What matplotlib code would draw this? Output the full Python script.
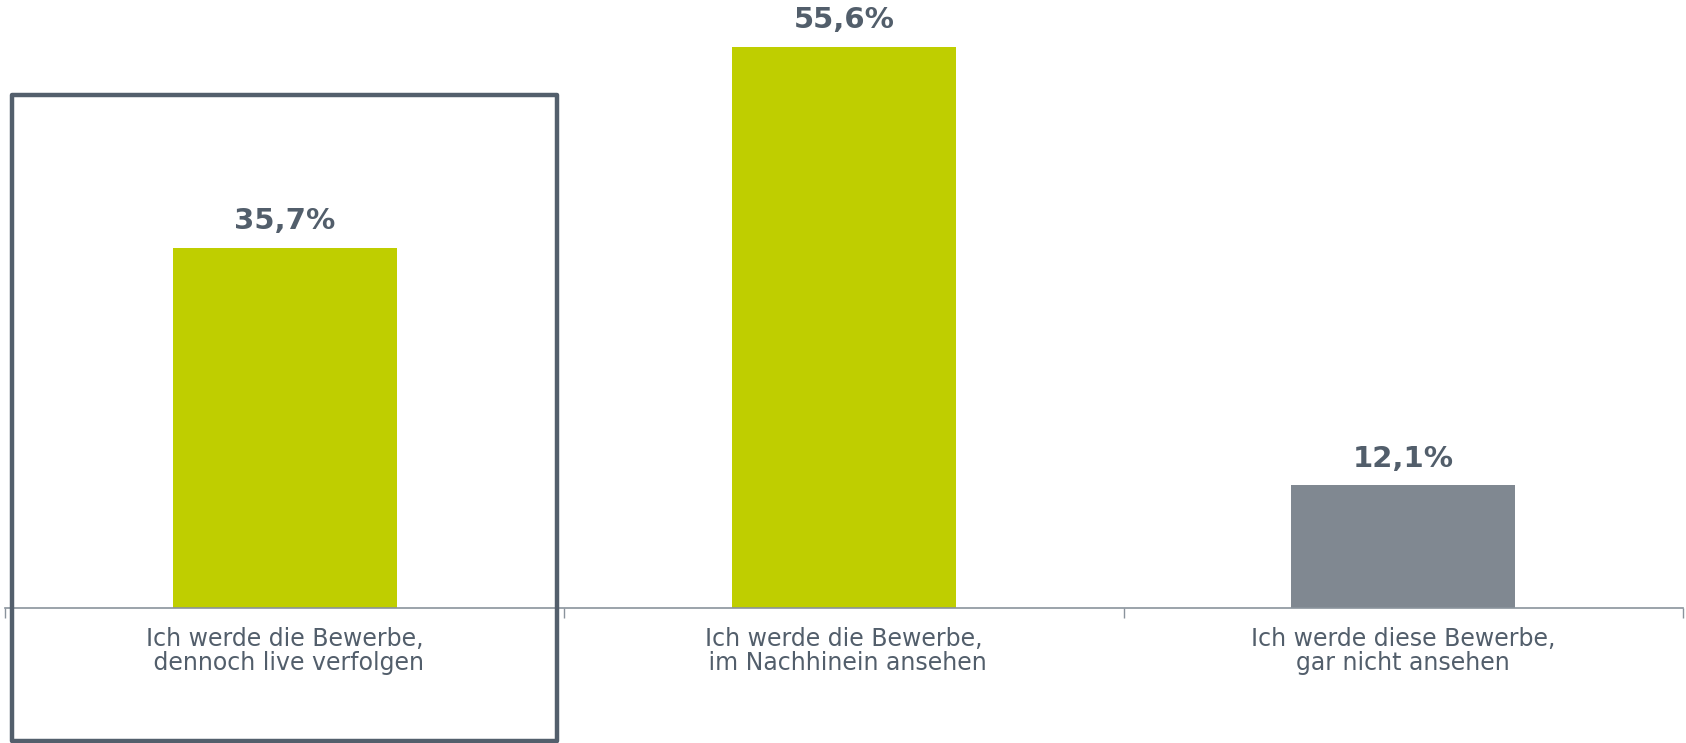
import matplotlib.pyplot as plt
from matplotlib.patches import Rectangle

# Data
categories = [
    "Ich werde die Bewerbe,\n dennoch live verfolgen",
    "Ich werde die Bewerbe,\n im Nachhinein ansehen",
    "Ich werde diese Bewerbe,\ngar nicht ansehen",
]
values = [35.7, 55.6, 12.1]
value_labels = ["35,7%", "55,6%", "12,1%"]
bar_colors = ["#bfce00", "#bfce00", "#808891"]

text_color = "#525e6b"
W, H = 1686, 743

fig = plt.figure(figsize=(W / 100, H / 100), dpi=100)
ax = fig.add_axes([5 / W, 135.5 / H, 1678 / W, 605 / H])

x = range(len(values))
ax.bar(x, values, width=0.4, color=bar_colors, linewidth=0, zorder=2)

for xi, v, lab in zip(x, values, value_labels):
    ax.annotate(lab, (xi, v), xytext=(0, 9), textcoords="offset points",
                ha="center", va="bottom", fontsize=21, fontweight="bold",
                color=text_color)

ax.set_xlim(-0.5, 2.5)
ax.set_ylim(0, 60)
ax.set_xticks(list(x))
ax.set_xticklabels(categories, fontsize=17, color=text_color, linespacing=1.0)
ax.set_xticks([-0.5, 0.5, 1.5, 2.5], minor=True)
ax.tick_params(axis="x", which="major", length=0, pad=14)
ax.tick_params(axis="x", which="minor", length=7, width=1, color="#8a939c")
ax.set_yticks([])
for side in ["top", "right", "left"]:
    ax.spines[side].set_visible(False)
ax.spines["bottom"].set_color("#8a939c")
ax.spines["bottom"].set_linewidth(1.2)

# highlight frame around first category
frame = Rectangle((12 / W, 2 / H), (557 - 12) / W, (648 - 2) / H,
                  transform=fig.transFigure, fill=False, edgecolor="#535f6c",
                  linewidth=3.2, joinstyle="round", zorder=5)
fig.patches.append(frame)

fig.savefig("out.png", dpi=100)
